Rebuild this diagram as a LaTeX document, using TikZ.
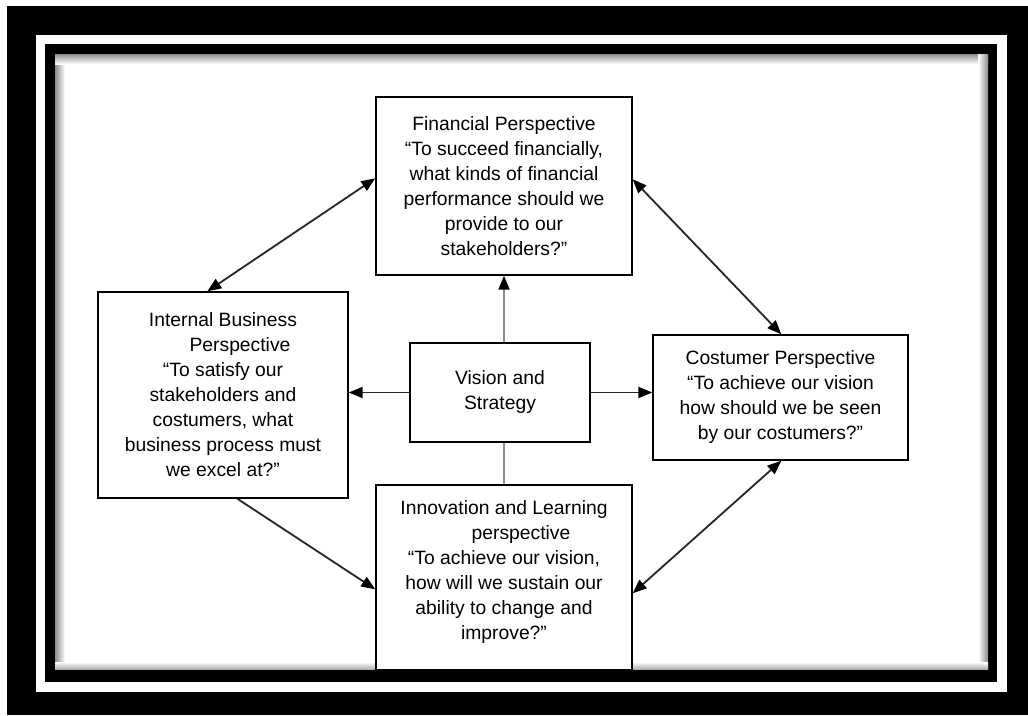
\documentclass[tikz,border=0pt]{standalone}
\usepackage{fontspec}
\setmainfont{Liberation Sans}
\usetikzlibrary{arrows.meta,calc}
\tikzset{
  box/.style={draw=black,line width=1.4pt,fill=white,align=center,inner sep=0pt,
    font=\fontsize{19.3}{25}\selectfont},
  link/.style={line width=1.8pt,draw=black!85},
  tip/.style={-{Triangle[length=14pt,width=11pt,color=black]}},
  twotip/.style={{Triangle[length=14pt,width=11pt,color=black]}-{Triangle[length=14pt,width=11pt,color=black]}},
  greylink/.style={line width=1.8pt,draw=black!45}
}
\begin{document}
\begin{tikzpicture}[x=1pt,y=-1pt]
\useasboundingbox (0,0) rectangle (1028,715);
% frame
\fill[white] (0,0) rectangle (1028,715);
\fill[black] (7,6) rectangle (1028,715);
\fill[white] (36,35) rectangle (1007,692);
\fill[black] (45,44) rectangle (997,682);
\fill[white] (55,54) rectangle (988,672);
\shade[left color=black!45,right color=white] (55,54) rectangle (65,672);
\shade[top color=black!45,bottom color=white] (55,54) rectangle (988,64);
\shade[left color=white,right color=black!45] (978,54) rectangle (988,672);
\shade[top color=white,bottom color=black!45] (55,662) rectangle (988,672);
\fill[white] (65,64) rectangle (978,662);

% boxes
\node[box,minimum width=256pt,minimum height=178pt] (fin) at (504,186)
  {Financial Perspective\\``To succeed financially,\\what kinds of financial\\performance should we\\provide to our\\stakeholders?''};
\node[box,minimum width=250pt,minimum height=206pt] (int) at (223,395)
  {Internal Business\\\hspace*{34pt}Perspective\\``To satisfy our\\stakeholders and\\costumers, what\\business process must\\we excel at?''};
\node[box,minimum width=180pt,minimum height=99pt] (vis) at (500,392.5)
  {Vision and\\Strategy};
\node[box,minimum width=255pt,minimum height=125pt] (cos) at (780.5,397.5)
  {Costumer Perspective\\``To achieve our vision\\how should we be seen\\by our costumers?''};
\node[box,minimum width=256pt,minimum height=185pt] (inn) at (504,577.5)
  {Innovation and Learning\\\hspace*{34pt}perspective\\``To achieve our vision,\\how will we sustain our\\ability to change and\\improve?''\\[-9pt]};

% connectors
\draw[greylink,tip] (fin.south |- vis.north) -- (fin.south);
\draw[greylink] (inn.north |- vis.south) -- (inn.north);
\draw[link,tip] (vis.west) -- (vis.west -| int.east);
\draw[link,tip] (vis.east) -- (vis.east -| cos.west);
\draw[link,twotip] ($(int.north west)+(110,0)$) -- ($(fin.north west)+(0,82)$);
\draw[link,twotip] ($(fin.north east)+(0,83)$) -- ($(cos.north west)+(129,0)$);
\draw[link,tip] ($(int.south west)+(140,0)$) -- ($(inn.north west)+(0,105)$);
\draw[link,twotip] ($(inn.north east)+(0,109)$) -- ($(cos.south west)+(129,0)$);

% inner frame drawn over the bottom box edge
\fill[black] (45,670) rectangle (997,682);
\end{tikzpicture}
\end{document}
